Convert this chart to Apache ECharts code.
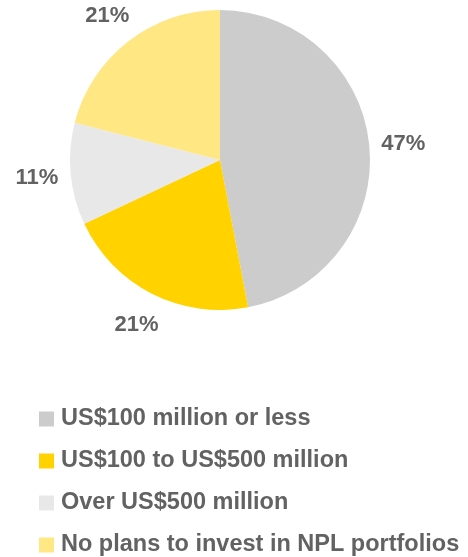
<!DOCTYPE html>
<html>
<head>
<meta charset="utf-8">
<script src="https://cdn.jsdelivr.net/npm/echarts@6/dist/echarts.min.js"></script>
<style>
  html, body { margin: 0; padding: 0; background: #fff; }
  #chart { width: 468px; height: 557px; }
</style>
</head>
<body>
<div id="chart"></div>
<script>
const categories = ['US$100 million or less', 'US$100 to US$500 million', 'Over US$500 million', 'No plans to invest in NPL portfolios']
const shares = [47, 21, 11, 21]
const colors = ['#cccccc', '#ffd200', '#e8e8e8', '#ffe784']

const textColor = '#626262'
const font = 'Liberation Sans, Arial, sans-serif'

const pieData = categories.map((name, i) => ({ name: name, value: shares[i] }))

var chart = echarts.init(document.getElementById('chart'))
chart.setOption({
  animation: false,
  color: colors,
  legend: {
    orient: 'vertical',
    left: 39,
    top: 407,
    height: 200, // keep all four items in one column
    padding: 0,
    itemWidth: 15,
    itemHeight: 15,
    itemGap: 18,
    icon: 'rect',
    selectedMode: false,
    data: categories,
    textStyle: { color: textColor, fontSize: 23.5, fontWeight: 'bold', fontFamily: font, padding: [0, 0, 0, 2] }
  },
  series: [
    {
      type: 'pie',
      center: [220, 160],
      radius: 150,
      startAngle: 90,
      clockwise: true,
      silent: true,
      label: { show: false },
      labelLine: { show: false },
      data: pieData
    },
    {
      // invisible ring, only used to centre the % labels just outside the pie
      type: 'pie',
      center: [220, 161],
      radius: [150, 212],
      startAngle: 90,
      clockwise: true,
      silent: true,
      itemStyle: { color: 'rgba(0,0,0,0)' },
      label: {
        show: true,
        position: 'inside',
        formatter: '{c}%',
        color: textColor,
        fontSize: 22,
        fontWeight: 'bold',
        fontFamily: font
      },
      labelLine: { show: false },
      data: pieData
    }
  ]
})
</script>
</body>
</html>
